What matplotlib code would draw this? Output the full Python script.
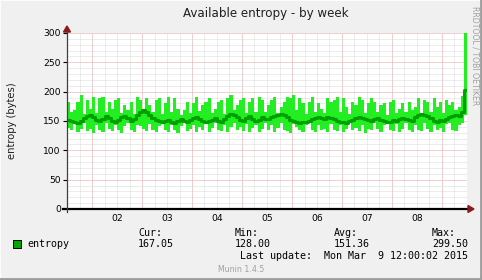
import numpy as np
import matplotlib
matplotlib.use("Agg")
import matplotlib.pyplot as plt
from matplotlib.patches import Polygon, Rectangle

# ---- data (entropy, bytes), 1.5-hour samples from Mar 1 12:00 ----
step_hours = 1.5
max_vals = [183, 165, 169, 183, 195, 162, 186, 170, 191, 163, 189, 191, 166, 183, 171, 186,
            189, 164, 177, 169, 183, 162, 191, 186, 168, 189, 177, 165, 186, 189, 162, 180,
            191, 166, 189, 171, 160, 169, 183, 163, 180, 191, 167, 177, 183, 189, 164, 171,
            183, 186, 162, 189, 195, 168, 177, 186, 189, 163, 183, 189, 166, 191, 186, 165,
            177, 186, 191, 164, 174, 183, 191, 189, 195, 168, 189, 180, 162, 183, 191, 166,
            180, 171, 163, 189, 183, 186, 191, 165, 189, 174, 162, 183, 177, 191, 186, 164,
            180, 189, 183, 166, 177, 180, 160, 183, 186, 163, 171, 180, 165, 183, 169, 174,
            189, 162, 186, 183, 166, 189, 174, 183, 164, 186, 177, 183, 168, 174, 192, 299.5]
min_vals = [138, 134, 145, 131, 136, 146, 133, 137, 130, 144, 135, 132, 147, 136, 133, 143,
            134, 130, 141, 146, 135, 132, 144, 141, 136, 133, 145, 134, 131, 142, 146, 135,
            132, 144, 134, 130, 141, 147, 133, 137, 143, 131, 139, 134, 145, 132, 138, 147,
            135, 133, 144, 131, 139, 146, 134, 140, 133, 145, 132, 138, 143, 131, 136, 146,
            134, 144, 132, 138, 147, 135, 133, 130, 145, 139, 134, 132, 144, 146, 135, 131,
            143, 134, 136, 132, 145, 135, 133, 143, 131, 136, 148, 134, 138, 133, 144, 130,
            137, 134, 146, 136, 132, 143, 148, 135, 133, 145, 131, 136, 146, 134, 132, 143,
            135, 133, 146, 136, 131, 144, 134, 138, 132, 145, 147, 135, 133, 144, 146, 160]
avg_vals = [152, 150, 148, 146, 150, 155, 158, 160, 156, 152, 150, 154, 158, 155, 150, 148,
            152, 156, 158, 155, 150, 153, 160, 165, 168, 166, 160, 155, 152, 150, 148, 150,
            152, 149, 147, 150, 153, 150, 148, 152, 155, 156, 153, 150, 148, 150, 152, 155,
            150, 148, 153, 158, 162, 160, 156, 152, 150, 155, 158, 153, 150, 152, 156, 154,
            154, 156, 158, 160, 162, 160, 156, 152, 150, 148, 147, 149, 148, 150, 153, 155,
            156, 155, 154, 156, 155, 153, 150, 148, 149, 147, 150, 152, 155, 156, 155, 154,
            152, 150, 153, 155, 152, 150, 148, 149, 151, 150, 153, 155, 153, 152, 150, 156,
            160, 162, 160, 158, 155, 150, 149, 152, 150, 153, 156, 158, 160, 158, 165, 203]

day_labels = ["02", "03", "04", "05", "06", "07", "08"]
y_ticks = [0, 50, 100, 150, 200, 250, 300]
legend_name = "entropy"
stat_names = ["Cur:", "Min:", "Avg:", "Max:"]
stat_values = ["167.05", "128.00", "151.36", "299.50"]
last_update = "Last update:  Mon Mar  9 12:00:02 2015"
title = "Available entropy - by week"
ylabel = "entropy (bytes)"

# ---- figure ----
W, H = 482, 280
fig = plt.figure(figsize=(W / 100, H / 100), dpi=100, facecolor="#f0f0f0")

def fx(px):
    return px / W

def fy(py):
    return 1 - py / H

# 3D border
fig.patches.append(Rectangle((0, 0), 1, 1, transform=fig.transFigure, fill=False,
                             edgecolor="#fcfcfc", lw=1.5, zorder=0))
fig.lines.append(plt.Line2D([fx(0), fx(481)], [fy(279), fy(279)], transform=fig.transFigure,
                            color="#9c9c9c", lw=2))
fig.lines.append(plt.Line2D([fx(481), fx(481)], [fy(0), fy(280)], transform=fig.transFigure,
                            color="#9c9c9c", lw=2))

L, R, T, B = 67, 467, 33, 209
ax = fig.add_axes([fx(L), fy(B), fx(R) - fx(L), fy(T) - fy(B)])
ax.set_facecolor("white")
total_hours = 192
ax.set_xlim(0, total_hours)
ax.set_ylim(0, 300)
for s in ax.spines.values():
    s.set_visible(False)

dot = (0, (1, 1))
# minor grid
for h in np.arange(0, total_hours + 1, 6):
    ax.axvline(h, color="#dadada", lw=0.72, ls=dot, zorder=1)
for v in np.arange(10, 301, 10):
    ax.axhline(v, color="#dadada", lw=0.72, ls=dot, zorder=1)
# major grid
for h in np.arange(12, total_hours, 24):
    ax.axvline(h, color="#f5b4b4", lw=0.72, ls=dot, zorder=2)
for v in y_ticks[1:]:
    ax.axhline(v, color="#f5b4b4", lw=0.72, ls=dot, zorder=2)

n = len(avg_vals)
edges = np.arange(n + 1) * step_hours
mx = np.array(max_vals + [max_vals[-1]], dtype=float)
mn = np.array(min_vals + [min_vals[-1]], dtype=float)
av = np.array(avg_vals + [avg_vals[-1]], dtype=float)
ax.fill_between(edges, mn, mx, step="post", color="#22ee22", lw=0, zorder=3)
ax.step(edges, av, where="post", color="#00a000", lw=2.2, zorder=4)

ax.set_yticks(y_ticks)
ax.set_yticklabels([str(v) for v in y_ticks], fontsize=6.6)
ax.tick_params(axis="y", length=3, width=0.8, pad=1.5, color="black")
ax.set_xticks([24 * (i + 1) for i in range(len(day_labels))])
ax.set_xticklabels(day_labels, fontsize=6.6)
ax.tick_params(axis="x", length=0, pad=3.5)

# axes lines and arrows
fig.lines.append(plt.Line2D([fx(63), fx(469)], [fy(209), fy(209)], transform=fig.transFigure,
                            color="black", lw=1.6, zorder=5))
fig.lines.append(plt.Line2D([fx(67), fx(67)], [fy(212), fy(29)], transform=fig.transFigure,
                            color="#404040", lw=0.9, zorder=5))
fig.patches.append(Polygon([(fx(468), fy(205.5)), (fx(468), fy(212.5)), (fx(474), fy(209))],
                           closed=True, transform=fig.transFigure, color="#8b1a1a", zorder=6))
fig.patches.append(Polygon([(fx(63.5), fy(32)), (fx(70.5), fy(32)), (fx(67), fy(26))],
                           closed=True, transform=fig.transFigure, color="#8b1a1a", zorder=6))

# texts
fig.text(fx(266), fy(13), title, ha="center", va="center", fontsize=8.6, color="#202020")
fig.text(fx(12), fy(121), ylabel, ha="center", va="center", rotation=90, fontsize=7.2,
         color="#202020")
fig.text(fx(475), fy(6), "RRDTOOL / TOBI OETIKER", ha="center", va="top", rotation=-90,
         fontsize=5.6, color="#a0a0a0")

mono = "DejaVu Sans Mono"
fs = 7.2
fig.patches.append(Rectangle((fx(13), fy(248)), fx(8), fy(240) - fy(248), transform=fig.transFigure,
                             facecolor="#00a800", edgecolor="black", lw=0.7))
fig.text(fx(27), fy(244), legend_name, ha="left", va="center", fontsize=fs, family=mono)
cols = [138, 235, 334, 432]
for c, nm, val in zip(cols, stat_names, stat_values):
    fig.text(fx(c), fy(233), nm, ha="left", va="center", fontsize=fs, family=mono)
    fig.text(fx(c), fy(244), val, ha="left", va="center", fontsize=fs, family=mono)
fig.text(fx(468), fy(256), last_update, ha="right", va="center", fontsize=fs, family=mono)
fig.text(fx(241), fy(270), "Munin 1.4.5", ha="center", va="center", fontsize=5.6, color="#a0a0a0")

fig.savefig("out.png", dpi=100, facecolor=fig.get_facecolor())
